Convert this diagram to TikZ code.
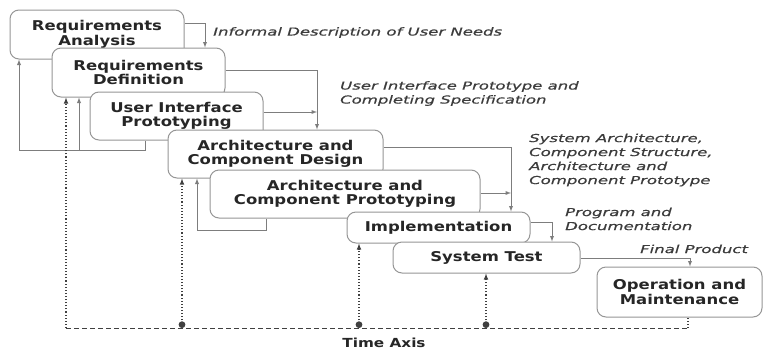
\documentclass[tikz,border=0pt]{standalone}
\usepackage{fontspec}
\setmainfont{DejaVu Sans}
\newfontfamily\phasefont{DejaVu Sans}[FakeStretch=1.22]
\newfontfamily\notefont{DejaVu Sans}[FakeStretch=1.5, FakeBold=0.6]
\usetikzlibrary{positioning}
\usetikzlibrary{calc}
\usetikzlibrary{arrows}
\definecolor{linegray}{RGB}{125,125,125}
\definecolor{boxgray}{RGB}{150,150,150}
\definecolor{notegray}{RGB}{60,60,60}
\tikzset{>=latex}
\tikzset{phase/.style={rectangle, rounded corners=9pt, draw=boxgray, line width=1pt, fill=white, inner sep=0pt, align=center, text=black!85, font=\phasefont\bfseries\fontsize{13.5}{14.5}\selectfont}}
\tikzset{note/.style={anchor=north west, inner sep=0pt, align=left, text=notegray, font=\notefont\itshape\fontsize{11}{14}\selectfont}}
\tikzset{flow/.style={->, draw=linegray, line width=0.9pt}}
\tikzset{timeline/.style={draw=black!75, line width=1.1pt, dotted}}
\tikzset{axisline/.style={draw=black!75, line width=1pt, dash pattern=on 5pt off 3pt}}

\begin{document}
\begin{tikzpicture}[x=1pt, y=-1pt]
    \useasboundingbox (0,0) rectangle (772,349);

    % ------- Start Phases ------- %
    \node [phase, minimum width=174pt, minimum height=49pt] (ra) at (97,34.5) {Requirements\\Analysis};
    \node [phase, minimum width=173pt, minimum height=49pt] (rd) at (138.5,72.5) {Requirements\\Definition};
    \node [phase, minimum width=173pt, minimum height=48pt] (uip) at (176.5,116) {User Interface\\Prototyping};
    \node [phase, minimum width=215pt, minimum height=48pt] (acd) at (275.5,154) {Architecture and\\Component Design};
    \node [phase, minimum width=270pt, minimum height=48pt] (acp) at (345,194) {Architecture and\\Component Prototyping};
    \node [phase, minimum width=183pt, minimum height=31pt] (impl) at (438.5,227.5) {Implementation};
    \node [phase, minimum width=187pt, minimum height=31pt] (st) at (486.5,257.5) {System Test};
    \node [phase, minimum width=165pt, minimum height=50pt] (om) at (679.5,292) {Operation and\\Maintenance};
    % ------- End Phases ------- %

    % ------- Start Results ------- %
    \coordinate (k1) at (205,23);
    \coordinate (k2) at (317,70);
    \coordinate (k3) at (317,112);
    \coordinate (k4) at (511,147);
    \coordinate (k5) at (511,193);
    \coordinate (k6) at (552,222);
    \coordinate (k7) at (690,258);

    \draw [flow] (ra.east |- k1) -| (rd.north -| k1);
    \draw [flow] (rd.east |- k2) -| (acd.north -| k2);
    \draw [flow] (uip.east |- k3) -- (k3);
    \draw [flow] (acd.east |- k4) -| (impl.north -| k4);
    \draw [flow] (acp.east |- k5) -- (k5);
    \draw [flow] (impl.east |- k6) -| (st.north -| k6);
    \draw [flow] (st.east |- k7) -| (om.north -| k7);

    \node [note] (n1) at (213,27) {Informal Description of User Needs};
    \node [note] (n2) at (340,81) {User Interface Prototype and\\Completing Specification};
    \node [note] (n3) at (529,133.5) {System Architecture,\\Component Structure,\\Architecture and\\Component Prototype};
    \node [note] (n4) at (565,207.5) {Program and\\Documentation};
    \node [note] (n5) at (640,244.5) {Final Product};
    % ------- End Results ------- %

    % ------- Start Feedback ------- %
    \coordinate (f1) at (145,150);
    \coordinate (f2) at (19,150);
    \coordinate (f3) at (79,150);
    \coordinate (f4) at (266,230);
    \coordinate (f5) at (197,230);

    \draw [flow, -] (uip.south -| f1) -- (f1) -- (f2);
    \draw [flow] (f2) -- (ra.south -| f2);
    \draw [flow] (f3) -- (rd.south -| f3);
    \draw [flow, -] (acp.south -| f4) -- (f4) -- (f5);
    \draw [flow] (f5) -- (acd.south -| f5);
    % ------- End Feedback ------- %

    % ------- Start Time Axis ------- %
    \coordinate (t0) at (66,328);
    \coordinate (t1) at (182,328);
    \coordinate (t2) at (359,328);
    \coordinate (t3) at (486,328);
    \coordinate (t4) at (688,328);

    \draw [axisline] (t0) -- (t4);
    \draw [timeline, ->] (t0) -- (rd.south -| t0);
    \draw [timeline, *->] (t1) -- (acd.south -| t1);
    \draw [timeline, *->] (t2) -- (impl.south -| t2);
    \draw [timeline, *->] (t3) -- (st.south -| t3);
    \draw [timeline] (t4) -- (om.south -| t4);

    \node [anchor=base, inner sep=0pt, text=black!85, font=\phasefont\bfseries\fontsize{12.5}{14}\selectfont] (taxis) at (384,347) {Time Axis};
    % ------- End Time Axis ------- %
\end{tikzpicture}
\end{document}
